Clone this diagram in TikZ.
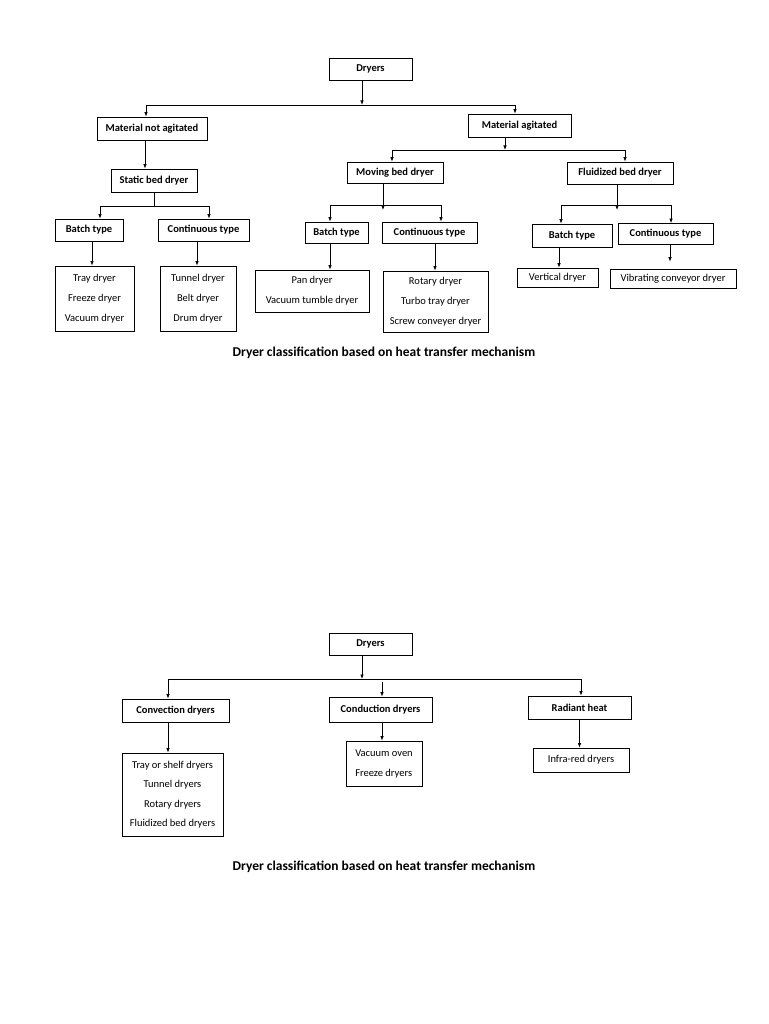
\documentclass[tikz,border=0pt]{standalone}
\usepackage{fontspec}
\setmainfont{Carlito}
\usetikzlibrary{arrows.meta}

\begin{document}
\begin{tikzpicture}[
          x=1pt, y=-1pt,
          head/.style={draw, line width=0.8pt, minimum height=22pt, inner sep=0pt, font=\bfseries\fontsize{10.5}{12}\selectfont},
          list/.style={draw, line width=0.8pt, inner sep=0pt, align=center, font=\fontsize{10.5}{20}\selectfont},
          arr/.style={-{Latex[length=4.5pt,width=3.5pt]}, line width=0.7pt},
          link/.style={line width=0.7pt},
          caption/.style={font=\bfseries\fontsize{13.5}{15}\selectfont}
        ]
        \useasboundingbox[fill=white] (0,0) rectangle (768,1024);

        % classification by state of material
        \begin{scope}
            \node[head, minimum width=83pt] (dryA) at (370.5,69) {Dryers};
            \node[head, minimum width=110pt, minimum height=23pt] (mna) at (152,128.5) {Material not agitated};
            \node[head, minimum width=103pt, minimum height=23pt] (ma) at (519.5,125.5) {Material agitated};
            \node[head, minimum width=86pt, minimum height=23pt] (sbd) at (154,180.5) {Static bed dryer};
            \node[head, minimum width=96pt, minimum height=21pt] (mbd) at (395,172.5) {Moving bed dryer};
            \node[head, minimum width=106pt] (fbd) at (620,173) {Fluidized bed dryer};

            \node[head, minimum width=68pt] (batchA) at (89,230) {Batch type};
            \node[head, minimum width=91pt] (contA) at (203.5,230) {Continuous type};
            \node[head, minimum width=63pt, minimum height=21pt] (batchB) at (336.5,232.5) {Batch type};
            \node[head, minimum width=95pt, minimum height=21pt] (contB) at (429.5,232.5) {Continuous type};
            \node[head, minimum width=80pt, minimum height=23pt] (batchC) at (572,235.5) {Batch type};
            \node[head, minimum width=95pt, minimum height=21pt] (contC) at (665.5,234) {Continuous type};

            \node[list, minimum width=79pt, minimum height=65pt] (tray) at (94.5,298.5) {Tray dryer\\Freeze dryer\\Vacuum dryer};
            \node[list, minimum width=76pt, minimum height=65pt] (tunnel) at (198,298.5) {Tunnel dryer\\Belt dryer\\Drum dryer};
            \node[list, minimum width=114pt, minimum height=42pt] (pan) at (312,291) {Pan dryer\\Vacuum tumble dryer};
            \node[list, minimum width=105pt, minimum height=61pt] (rotary) at (435.5,301.5) {Rotary dryer\\Turbo tray dryer\\Screw conveyer dryer};
            \node[list, minimum width=81pt, minimum height=19pt] (vert) at (557.5,277.5) {Vertical dryer};
            \node[list, minimum width=126pt, minimum height=19pt] (vib) at (673,278.5) {Vibrating conveyor dryer};

            \coordinate (barA) at (362,105);
            \coordinate (barB) at (505,150);
            \coordinate (barC) at (154,206);
            \coordinate (barD) at (383,205);
            \coordinate (barE) at (617,205);

            \draw[arr] ([xshift=-8.5pt]dryA.south) -- (barA);
            \draw[link] ([xshift=-6pt]mna.north |- barA) -- ([xshift=-4.5pt]ma.north |- barA);
            \draw[arr] ([xshift=-6pt]mna.north |- barA) -- ([xshift=-6pt]mna.north);
            \draw[arr] ([xshift=-4.5pt]ma.north |- barA) -- ([xshift=-4.5pt]ma.north);
            \draw[arr] ([xshift=-7pt]mna.south) -- ([xshift=-7pt]mna.south |- sbd.north);

            \draw[arr] ([xshift=-14.5pt]ma.south) -- (barB);
            \draw[link] ([xshift=-3pt]mbd.north |- barB) -- ([xshift=5pt]fbd.north |- barB);
            \draw[arr] ([xshift=-3pt]mbd.north |- barB) -- ([xshift=-3pt]mbd.north);
            \draw[arr] ([xshift=5pt]fbd.north |- barB) -- ([xshift=5pt]fbd.north);

            \draw[link] (sbd.south) -- (barC);
            \draw[link] ([xshift=11pt]batchA.north |- barC) -- ([xshift=5.5pt]contA.north |- barC);
            \draw[arr] ([xshift=11pt]batchA.north |- barC) -- ([xshift=11pt]batchA.north);
            \draw[arr] ([xshift=5.5pt]contA.north |- barC) -- ([xshift=5.5pt]contA.north);

            \draw[arr] ([xshift=-12pt]mbd.south) -- ([yshift=-5pt]barD);
            \draw[link] ([xshift=-6.5pt]batchB.north |- barD) -- ([xshift=11.5pt]contB.north |- barD);
            \draw[arr] ([xshift=-6.5pt]batchB.north |- barD) -- ([xshift=-6.5pt]batchB.north);
            \draw[arr] ([xshift=11.5pt]contB.north |- barD) -- ([xshift=11.5pt]contB.north);

            \draw[arr] ([xshift=-3pt]fbd.south) -- ([yshift=-5pt]barE);
            \draw[link] ([xshift=-11pt]batchC.north |- barE) -- ([xshift=5.5pt]contC.north |- barE);
            \draw[arr] ([xshift=-11pt]batchC.north |- barE) -- ([xshift=-11pt]batchC.north);
            \draw[arr] ([xshift=5.5pt]contC.north |- barE) -- ([xshift=5.5pt]contC.north);

            \draw[arr] ([xshift=3pt]batchA.south) -- ([xshift=3pt]batchA.south |- tray.north);
            \draw[arr] ([xshift=-6.5pt]contA.south) -- ([xshift=-6.5pt]contA.south |- tunnel.north);
            \draw[arr] ([xshift=-6.5pt]batchB.south) -- ([xshift=-6.5pt]batchB.south |- pan.north);
            \draw[arr] ([xshift=5.5pt]contB.south) -- ([xshift=5.5pt]contB.south |- rotary.north);
            \draw[arr] ([xshift=-13pt]batchC.south) -- ([xshift=-13pt]batchC.south |- vert.north);
            \draw[arr, shorten >=7pt] ([xshift=4.5pt]contC.south) -- ([xshift=4.5pt]contC.south |- vib.north);

            \node[caption] (capA) at (384,353) {Dryer classification based on heat transfer mechanism};
        \end{scope}

        % classification by heat transfer
        \begin{scope}
            \node[head, minimum width=83pt] (dryB) at (370.5,644) {Dryers};
            \node[head, minimum width=107pt, minimum height=23pt] (conv) at (175.5,710.5) {Convection dryers};
            \node[head, minimum width=103pt, minimum height=25pt] (cond) at (380.5,709.5) {Conduction dryers};
            \node[head, minimum width=103pt, minimum height=23pt] (rad) at (579.5,707.5) {Radiant heat};

            \node[list, minimum width=101pt, minimum height=83pt, font=\fontsize{10.5}{19.5}\selectfont] (shelf) at (172.5,794.5) {Tray or shelf dryers\\Tunnel dryers\\Rotary dryers\\Fluidized bed dryers};
            \node[list, align=left, minimum width=76pt, minimum height=45pt] (oven) at (384,763.5) {Vacuum oven\\Freeze dryers};
            \node[list, minimum width=96pt, minimum height=24pt] (infra) at (581,760) {Infra-red dryers};

            \coordinate (barF) at (362,679);

            \draw[arr] ([xshift=-8.5pt]dryB.south) -- (barF);
            \draw[link] ([xshift=-7.5pt]conv.north |- barF) -- ([xshift=1.5pt]rad.north |- barF);
            \draw[arr] ([xshift=-7.5pt]conv.north |- barF) -- ([xshift=-7.5pt]conv.north);
            \draw[arr, shorten <=2.5pt] ([xshift=1.5pt]cond.north |- barF) -- ([xshift=1.5pt]cond.north);
            \draw[arr] ([xshift=1.5pt]rad.north |- barF) -- ([xshift=1.5pt]rad.north);

            \draw[arr] ([xshift=-7.5pt]conv.south) -- ([xshift=-7.5pt]conv.south |- shelf.north);
            \draw[arr] ([xshift=1.5pt]cond.south) -- ([xshift=1.5pt]cond.south |- oven.north);
            \draw[arr] (rad.south) -- (rad.south |- infra.north);

            \node[caption] (capB) at (384,867) {Dryer classification based on heat transfer mechanism};
        \end{scope}

        \end{tikzpicture}
\end{document}
